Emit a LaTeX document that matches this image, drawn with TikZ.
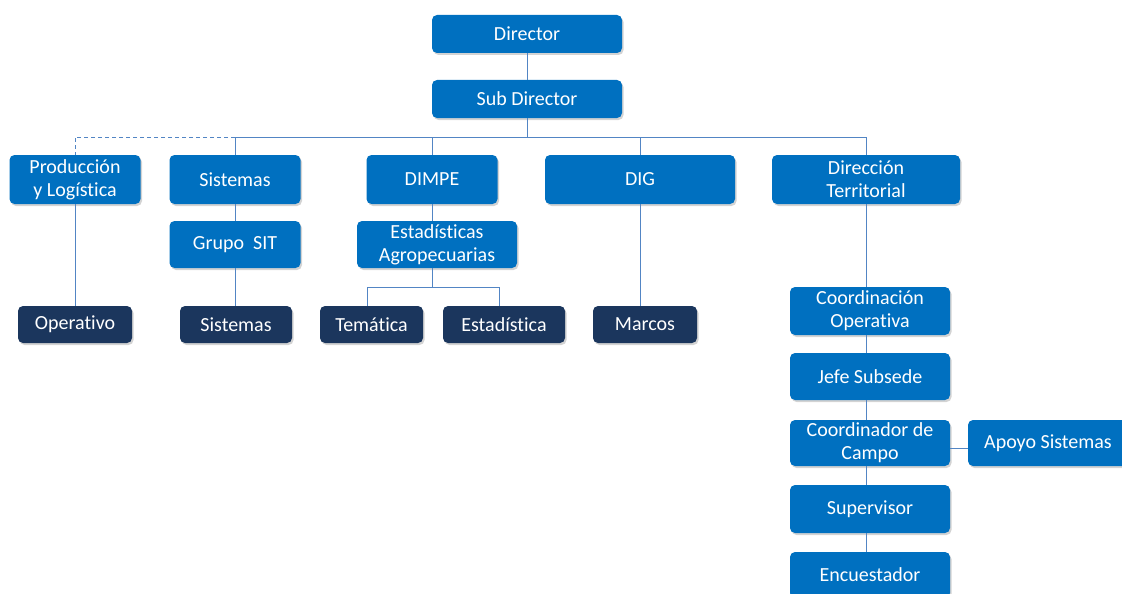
\documentclass[tikz,border=0pt]{standalone}
\usepackage{fontspec}
\setmainfont{Carlito}[RawFeature={-liga;-clig;-calt;-dlig}]
\usepackage{tikz}
\usetikzlibrary{positioning,shadows}

\definecolor{boxblue}{HTML}{0070C0}
\definecolor{boxdark}{HTML}{1B365D}
\definecolor{linkblue}{HTML}{5285C4}

\begin{document}
\begin{tikzpicture}[x=1pt, y=-1pt,
    unit/.style={rectangle, rounded corners=5pt, fill=boxblue, text=white, align=center,
        font=\fontsize{20}{23}\selectfont, inner sep=0pt,
        drop shadow={shadow xshift=1.5pt, shadow yshift=-2pt, opacity=0.35, fill=gray}},
    team/.style={unit, fill=boxdark},
    link/.style={draw=linkblue, line width=1pt}]

    \useasboundingbox (0,0) rectangle (1122,594);

    % Top of the chart
    \node (dir)[unit, minimum width=190pt, minimum height=38pt] at (527,34) {Director};
    \node (subdir)[unit, minimum width=190pt, minimum height=38pt] at (527,99) {Sub Director};

    % Second level
    \node (prod)[unit, minimum width=131pt, minimum height=49pt] at (75,179.5) {Producción\\y Logística};
    \node (sist)[unit, minimum width=131pt, minimum height=49pt] at (235,179.5) {Sistemas};
    \node (dimpe)[unit, minimum width=131pt, minimum height=49pt] at (432,179.5) {DIMPE};
    \node (dig)[unit, minimum width=190pt, minimum height=49pt] at (640,179.5) {DIG};
    \node (terr)[unit, minimum width=188pt, minimum height=49pt] at (866,179.5) {Dirección\\Territorial};

    % Third level
    \node (sit)[unit, minimum width=131pt, minimum height=47pt] at (235,244.5) {Grupo~ SIT};
    \node (agro)[unit, minimum width=160pt, minimum height=47pt] at (437,244.5) {Estadísticas\\Agropecuarias};

    % Teams
    \node (oper)[team, minimum width=114pt, minimum height=37pt] at (75,324.5) {Operativo};
    \node (sistb)[team, minimum width=112pt, minimum height=37pt] at (236,324.5) {Sistemas};
    \node (tema)[team, minimum width=103pt, minimum height=37pt] at (371.5,324.5) {Temática};
    \node (esta)[team, minimum width=122pt, minimum height=37pt] at (504,324.5) {Estadística};
    \node (marcos)[team, minimum width=104pt, minimum height=37pt] at (645,324.5) {Marcos};

    % Territorial chain
    \node (coop)[unit, minimum width=160pt, minimum height=48pt] at (870,311) {Coordinación\\Operativa};
    \node (jefe)[unit, minimum width=160pt, minimum height=47pt] at (870,376.5) {Jefe Subsede};
    \node (ccampo)[unit, minimum width=160pt, minimum height=46pt] at (870,443) {Coordinador de\\Campo};
    \node (apoyo)[unit, minimum width=160pt, minimum height=46pt] at (1048,443) {Apoyo Sistemas};
    \node (super)[unit, minimum width=160pt, minimum height=48pt] at (870,509) {Supervisor};
    \node (encu)[unit, minimum width=160pt, minimum height=46pt] at (870,575) {Encuestador};

    \coordinate (bus) at (527,137);
    \coordinate (agrobar) at (432,287);

    % Edges from the top
    \draw[link] (dir) -- (subdir);
    \draw[link] (subdir) -- (bus);
    \draw[link] (sist.north) -- (sist.north |- bus) -| (terr.north);
    \draw[link] (dimpe.north) -- (dimpe.north |- bus);
    \draw[link] (dig.north) -- (dig.north |- bus);
    \draw[link, dash pattern=on 4pt off 3pt] (sist.north |- bus) -| (prod.north);

    % Edges down to the teams
    \draw[link] (prod) -- (oper);
    \draw[link] (sist) -- (sit);
    \draw[link] (sit) -- (sit |- sistb.north);
    \draw[link] (dimpe) -- (dimpe |- agro.north);
    \draw[link] (dimpe |- agro.south) -- (agrobar);
    \draw[link] (367,287 |- agrobar) coordinate (tl) -- (499,287);
    \draw[link] (tl) -- (tl |- tema.north);
    \draw[link] (499,287) -- (499,287 |- esta.north);
    \draw[link] (dig) -- (dig |- marcos.north);

    % Edges for the territorial chain
    \draw[link] (terr.south) -- (terr.south |- coop.north);
    \draw[link] (terr.south |- coop.south) -- (terr.south |- jefe.north);
    \draw[link] (terr.south |- jefe.south) -- (terr.south |- ccampo.north);
    \draw[link] (terr.south |- ccampo.south) -- (terr.south |- super.north);
    \draw[link] (terr.south |- super.south) -- (terr.south |- encu.north);
    \draw[link] (ccampo.east |- 0,448) -- (apoyo.west |- 0,448);
\end{tikzpicture}
\end{document}
